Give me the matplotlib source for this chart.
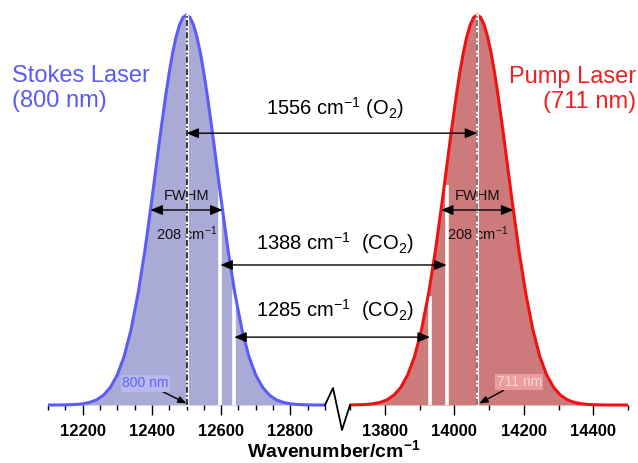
import matplotlib
matplotlib.use('Agg')
import matplotlib.pyplot as plt
from matplotlib.patches import ConnectionPatch
from matplotlib.lines import Line2D
from matplotlib.ticker import MultipleLocator

plt.rcParams['font.family'] = ['Liberation Sans', 'DejaVu Sans']
plt.rcParams['mathtext.default'] = 'regular'

# ---------------- data ----------------
stokes_center = 12500      # cm-1 (800 nm)
pump_center = 14066        # cm-1 (711 nm)
fwhm = 208

# line profile (offset from peak centre, relative height)
offsets = [-400, -380, -360, -340, -320, -300, -280, -260, -240, -220, -200,
           -180, -160, -140, -120, -100, -90, -80, -70, -60, -50, -40, -30,
           -20, -10, 0, 10, 20, 30, 40, 50, 60, 70, 80, 90, 100, 120, 140,
           160, 180, 200, 220, 240, 260, 280, 300, 320, 340, 360, 380, 400,
           420, 440]
profile = [0.0, 0.0, 0.0002, 0.0006, 0.0014, 0.0031, 0.0066, 0.013, 0.025,
           0.045, 0.077, 0.125, 0.194, 0.285, 0.397, 0.527, 0.595, 0.664,
           0.730, 0.794, 0.852, 0.903, 0.944, 0.975, 0.994, 1.0, 0.994, 0.975,
           0.944, 0.903, 0.852, 0.794, 0.730, 0.664, 0.595, 0.527, 0.397,
           0.285, 0.194, 0.125, 0.077, 0.045, 0.025, 0.013, 0.0066, 0.0031,
           0.0014, 0.0006, 0.0002, 0.0, 0.0, 0.0, 0.0]

# white gaps in the filled peaks (position, height)
stokes_gaps_x = [12598, 12638]
stokes_gaps_h = [0.55, 0.295]
pump_gaps_x = [13930, 13978]
pump_gaps_h = [0.28, 0.565]

# Raman shift arrows: (left x, right x, height)
shift_left = [12500, 12598, 12638]
shift_right = [14066, 13978, 13930]
shift_y = [0.697, 0.359, 0.174]
shift_labels = ['1556 cm$^{-1}$ (O$_2$)', '1388 cm$^{-1}$  (CO$_2$)',
                '1285 cm$^{-1}$  (CO$_2$)']

left_ticks = [12200, 12400, 12600, 12800]
right_ticks = [13800, 14000, 14200, 14400]

# ---------------- styling ----------------
blue_line = '#5c5cf6'
blue_fill = '#aaaad6'
red_line = '#f01212'
red_fill = '#cc7a7a'

fig = plt.figure(figsize=(6.38, 4.63), dpi=100)
W, H = 638, 463


def fx(px):
    return px / W


def fy(py):
    return 1 - py / H


ax1 = fig.add_axes([fx(48), fy(408.9), 277 / W, 397.8 / H])
ax2 = fig.add_axes([fx(350), fy(408.9), 278 / W, 397.8 / H])

for ax, c, lc, fc, xl, ticks, minor in [
        (ax1, stokes_center, blue_line, blue_fill, (12100, 12900), left_ticks, 50),
        (ax2, pump_center, red_line, red_fill, (13700, 14500), right_ticks, 100)]:
    xs = [c + o for o in offsets]
    ax.fill_between(xs, 0, profile, color=fc, lw=0, zorder=1)
    ax.plot(xs, profile, color=lc, lw=2.2, zorder=3, solid_capstyle='butt')
    ax.set_xlim(*xl)
    ax.set_ylim(-0.01, 1.01)
    for s in ['left', 'right', 'top']:
        ax.spines[s].set_visible(False)
    ax.spines['bottom'].set_position(('data', 0))
    ax.spines['bottom'].set_visible(False)
    ax.set_yticks([])
    ax.set_xticks(ticks, labels=[str(t) for t in ticks],
                  fontweight='bold', fontsize=12)
    ax.xaxis.set_minor_locator(MultipleLocator(minor))
    ax.tick_params(axis='x', which='major', length=7, width=1, direction='out',
                   pad=7, color='black')
    ax.tick_params(axis='x', which='minor', length=3.5, width=1,
                   direction='out', color='black')
    ax.patch.set_visible(False)

ax1.vlines(stokes_gaps_x, 0, stokes_gaps_h, color='white', lw=2.6, zorder=2)
ax2.vlines(pump_gaps_x, 0, pump_gaps_h, color='white', lw=2.6, zorder=2)

# centre dash-dot lines
ax1.plot([stokes_center] * 2, [0, 1], color='white', lw=2.0, zorder=4)
ax1.plot([stokes_center] * 2, [0, 1], color='black', lw=1.1,
         dashes=(4, 1.5, 1, 1.5), zorder=5)
ax2.plot([pump_center] * 2, [0, 1], color='white', lw=2.0, zorder=4)
ax2.plot([pump_center] * 2, [0, 1], color='#555555', lw=1.1,
         dashes=(4, 1.5, 1, 1.5), zorder=5)

astyle = '<|-|>,head_length=0.6,head_width=0.25'

# FWHM arrows and labels
for ax, c in [(ax1, stokes_center), (ax2, pump_center)]:
    ax.annotate('', xy=(c + fwhm / 2, 0.5), xytext=(c - fwhm / 2, 0.5),
                arrowprops=dict(arrowstyle=astyle, color='black', lw=1.0,
                                shrinkA=0, shrinkB=0, mutation_scale=12),
                zorder=6)
    ax.text(c, 0.535, 'FWHM', ha='center', va='center', fontsize=10.5,
            color='#111111', zorder=3.5)
    ax.text(c, 0.44, '%d cm$^{-1}$' % fwhm, ha='center', va='center',
            fontsize=10.5, color='#111111', zorder=3.5)

# Raman shift arrows across the break
for xl_, xr_, y in zip(shift_left, shift_right, shift_y):
    cp = ConnectionPatch(xyA=(xl_, y), coordsA=ax1.transData,
                         xyB=(xr_, y), coordsB=ax2.transData,
                         arrowstyle=astyle, color='black', lw=1.0,
                         mutation_scale=12, shrinkA=0, shrinkB=0)
    fig.add_artist(cp)

for lab, py in zip(shift_labels, [108, 243, 310]):
    fig.text(fx(335), fy(py), lab, ha='center', va='center', fontsize=14.5)

# laser labels
fig.text(fx(12), fy(76), 'Stokes Laser', ha='left', va='center',
         fontsize=17, color='#5a5af5')
fig.text(fx(12), fy(101), '(800 nm)', ha='left', va='center',
         fontsize=17, color='#5a5af5')
fig.text(fx(636), fy(77), 'Pump Laser', ha='right', va='center',
         fontsize=17, color='#ee2020')
fig.text(fx(636), fy(102), '(711 nm)', ha='right', va='center',
         fontsize=17, color='#ee2020')

# wavelength markers
ax1.annotate('800 nm', xy=(stokes_center, 0.004), xytext=(12382, 0.056),
             ha='center', va='center', fontsize=10, color='#6262f8',
             bbox=dict(boxstyle='square,pad=0.1', fc='#b9b9ee', ec='none'),
             arrowprops=dict(arrowstyle='-|>,head_length=0.5,head_width=0.2',
                             color='black', lw=1.0, shrinkA=0, shrinkB=0,
                             mutation_scale=10),
             zorder=6)
ax2.annotate('711 nm', xy=(pump_center + 6, 0.004), xytext=(14187, 0.059),
             ha='center', va='center', fontsize=10, color='#ffd6d6',
             bbox=dict(boxstyle='square,pad=0.1', fc='#eb9c9c', ec='none'),
             arrowprops=dict(arrowstyle='-|>,head_length=0.5,head_width=0.2',
                             color='black', lw=1.0, shrinkA=0, shrinkB=0,
                             mutation_scale=10),
             zorder=6)

# axis break zig-zag
zz_x = [325, 333, 342, 350]
zz_y = [405, 388, 430, 405]
fig.add_artist(Line2D([fx(v) for v in zz_x], [fy(v) for v in zz_y],
                      transform=fig.transFigure, color='black', lw=1.3))

fig.text(fx(334), fy(450), 'Wavenumber/cm$^{-1}$', ha='center', va='center',
         fontsize=14, fontweight='bold')

fig.savefig('out.png', dpi=100)
